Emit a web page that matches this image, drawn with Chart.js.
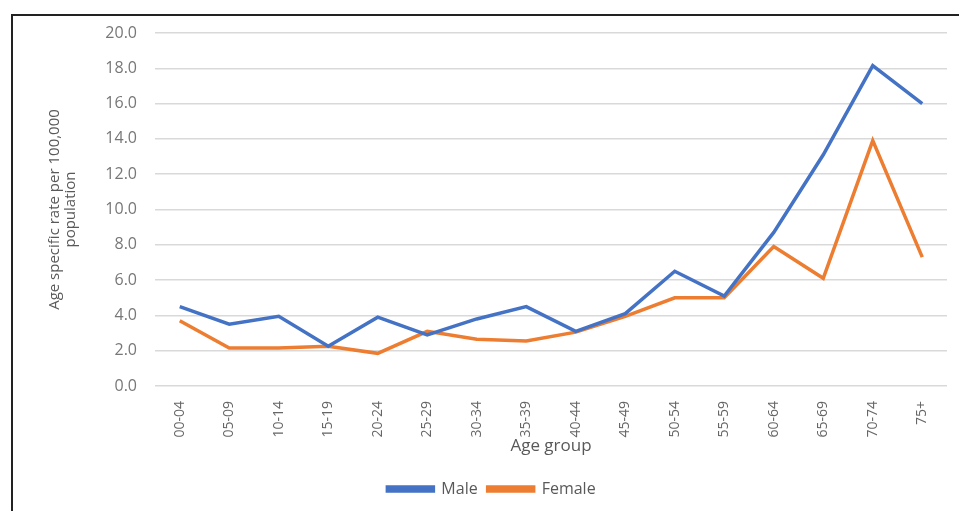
<!DOCTYPE html>
<html>
<head>
<meta charset="utf-8">
<script src="https://cdn.jsdelivr.net/npm/chart.js@4"></script>
<style>
  html, body { margin: 0; padding: 0; background: #fff; overflow: hidden; }
  #wrap { position: relative; width: 959px; height: 511px; }
  #frame {
    position: absolute; left: 11px; top: 14px; width: 1000px; height: 600px;
    border-left: 2px solid #222; border-top: 2px solid #222;
  }
  #grafico { position: absolute; left: 0; top: 0; }
</style>
</head>
<body>
<div id="wrap">
  <div id="frame"></div>
  <canvas id="grafico" width="959" height="511"></canvas>
</div>
<script>
/* ================= DADOS ================= */

const faixas = ["00-04", "05-09", "10-14", "15-19", "20-24", "25-29", "30-34", "35-39",
  "40-44", "45-49", "50-54", "55-59", "60-64", "65-69", "70-74", "75+"];

const masculino = [4.5, 3.5, 3.95, 2.25, 3.9, 2.9, 3.8, 4.5,
  3.1, 4.1, 6.5, 5.1, 8.7, 13.1, 18.15, 16.0];

const feminino = [3.7, 2.15, 2.15, 2.25, 1.85, 3.1, 2.65, 2.55,
  3.05, 3.95, 5.0, 5.0, 7.9, 6.1, 13.9, 7.3];

const ticksY = [0, 2, 4, 6, 8, 10, 12, 14, 16, 18, 20];

/* ================= GRÁFICO ================= */

const fonte = "'Open Sans', sans-serif";

new Chart(document.getElementById("grafico"), {
  type: "line",
  data: {
    labels: faixas,
    datasets: [
      {
        label: "Male",
        data: masculino,
        borderColor: "#4472c4",
        backgroundColor: "#4472c4",
        borderWidth: 3.5,
        pointRadius: 0,
        tension: 0
      },
      {
        label: "Female",
        data: feminino,
        borderColor: "#ed7d31",
        backgroundColor: "#ed7d31",
        borderWidth: 3.5,
        pointRadius: 0,
        tension: 0
      }
    ]
  },
  options: {
    responsive: false,
    animation: false,
    layout: { padding: { left: 36, right: 12, top: 33, bottom: 4 } },
    plugins: {
      tooltip: { enabled: false },
      legend: {
        position: "bottom",
        labels: {
          boxWidth: 46,
          boxHeight: 4,
          color: "#595959",
          font: { family: fonte, size: 16 }
        }
      }
    },
    scales: {
      x: {
        offset: true,
        grid: { display: false },
        border: { display: false },
        ticks: {
          minRotation: 90,
          maxRotation: 90,
          padding: 7,
          color: "#666",
          font: { family: fonte, size: 14 }
        },
        title: {
          display: true,
          text: "Age group",
          color: "#595959",
          font: { family: fonte, size: 17 },
          padding: { top: 0, bottom: 15 }
        },
        afterFit(scale) { scale.height = 85; }
      },
      y: {
        min: 0,
        max: 20,
        afterBuildTicks(scale) { scale.ticks = ticksY.map(v => ({ value: v })); },
        grid: { color: "#d9d9d9", lineWidth: 1.5, drawTicks: false },
        border: { display: false },
        ticks: {
          padding: 18,
          color: "#777",
          font: { family: fonte, size: 16 },
          callback: v => v.toFixed(1)
        },
        title: {
          display: true,
          text: ["Age specific rate per 100,000", "population"],
          color: "#595959",
          font: { family: fonte, size: 15, lineHeight: 1.1 },
          padding: { top: 10, bottom: 0 }
        },
        afterFit(scale) { scale.width = 119; }
      }
    }
  }
});
</script>
</body>
</html>
